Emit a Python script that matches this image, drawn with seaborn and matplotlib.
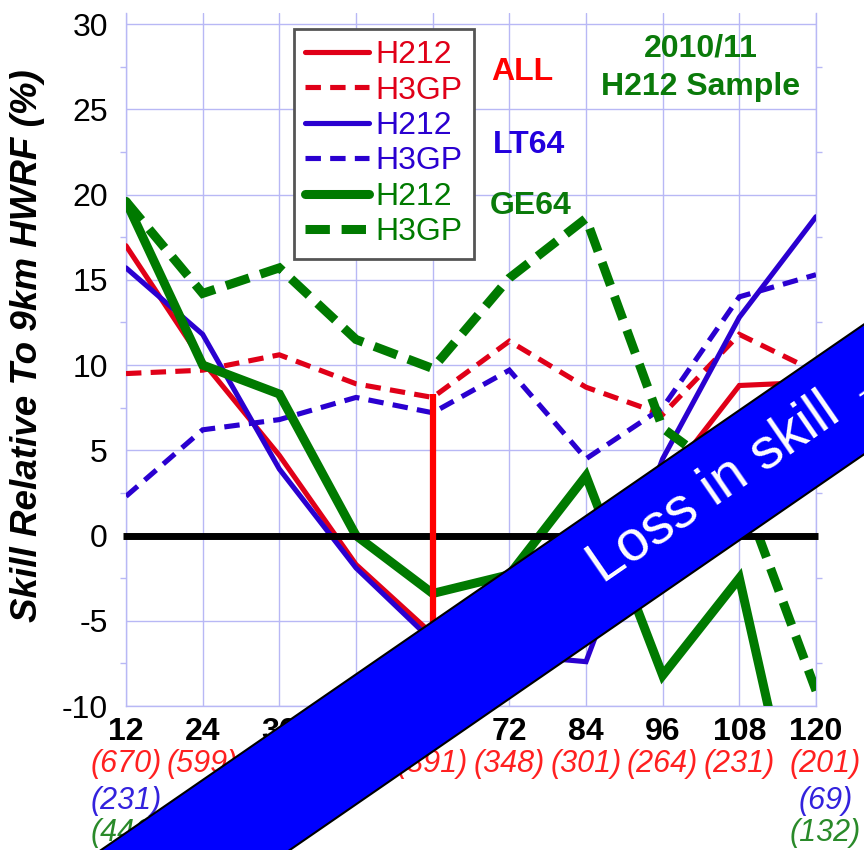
import matplotlib
matplotlib.use('Agg')
import matplotlib.pyplot as plt
import seaborn as sns
import numpy as np
from matplotlib.patches import Polygon

# ---------------- data ----------------
hours = [12, 24, 36, 48, 60, 72, 84, 96, 108, 120]
all_h212 = [17.0, 10.2, 4.7, -1.7, -5.8, -4.5, -3.0, 3.0, 8.8, 9.0]
all_h3gp = [9.5, 9.7, 10.6, 8.9, 8.1, 11.4, 8.7, 7.1, 11.8, 9.6]
lt64_h212 = [15.7, 11.8, 3.9, -1.9, -6.2, -7.0, -7.4, 4.5, 12.8, 18.7]
lt64_h3gp = [2.3, 6.2, 6.8, 8.1, 7.2, 9.7, 4.5, 7.5, 14.0, 15.3]
ge64_h212 = [19.6, 10.0, 8.3, 0.0, -3.4, -2.3, 3.5, -8.2, -2.5, -22.5]
ge64_h3gp = [19.6, 14.2, 15.7, 11.5, 9.8, 15.1, 18.6, 6.3, 3.0, -9.1]

count_all = [670, 599, 532, 459, 391, 348, 301, 264, 231, 201]
count_lt64 = [231, None, None, None, None, None, None, None, None, 69]
count_ge64 = [446, None, None, None, None, None, None, None, None, 132]

yticks = [-10, -5, 0, 5, 10, 15, 20, 25, 30]
legend_labels = ['H212', 'H3GP', 'H212', 'H3GP', 'H212', 'H3GP']
group_labels = ['ALL', 'LT64', 'GE64']
title_text = '2010/11\nH212 Sample'
ylabel_text = 'Skill Relative To 9km HWRF (%)'
banner_text = 'Loss in skill \u2192'

# ---------------- style ----------------
RED = '#e00018'
BLUE = '#2a00d0'
GREEN = '#007a00'
GRID = '#b8b8f5'
W, H = 864, 850

sns.set_theme(style='white')
plt.rcParams['font.family'] = ['Liberation Sans', 'DejaVu Sans']
plt.rcParams['axes.unicode_minus'] = False

fig = plt.figure(figsize=(W / 100, H / 100), dpi=100)
ax = fig.add_axes([126 / W, 1 - 706 / H, 690 / W, 693 / H])


def fx(px):
    return px / W


def fy(py):
    return 1 - py / H


thin_dash = (0, (3.0, 1.8))
thick_dash = (0, (2.7, 1.3))
series = [
    (all_h212, RED, 3.7, '-', 3),
    (all_h3gp, RED, 3.7, thin_dash, 3),
    (lt64_h212, BLUE, 3.7, '-', 3),
    (lt64_h3gp, BLUE, 3.7, thin_dash, 3),
    (ge64_h212, GREEN, 6.5, '-', 4),
    (ge64_h3gp, GREEN, 6.5, thick_dash, 4),
]

handles = []
for (vals, col, lw, ls, z), lab in zip(series, legend_labels):
    sns.lineplot(x=hours, y=vals, ax=ax, color=col, linewidth=lw,
                 linestyle=ls, zorder=z, solid_joinstyle='miter',
                 dash_joinstyle='miter', dash_capstyle='butt')
    line = ax.get_lines()[-1]
    line.set_label(lab)
    handles.append(line)

leg_old = ax.get_legend()
if leg_old is not None:
    leg_old.remove()

# zero line & vertical marker
ax.hlines(0, 11.5, 120.3, color='black', lw=5, zorder=6, clip_on=False)
ax.vlines(hours[4], all_h212[4], all_h3gp[4] + 0.2, color='#ff0000', lw=4.5, zorder=7)

# axes styling
ax.set_xlim(12, 120)
ax.set_ylim(-10, 30.65)
ax.set_xticks(hours)
ax.set_xticklabels([str(h) for h in hours], fontsize=23, fontweight='bold', color='black')
ax.set_yticks(yticks)
ax.set_yticklabels([str(t) for t in yticks], fontsize=23, color='black')
ax.set_yticks(np.arange(-7.5, 30, 5), minor=True)
ax.tick_params(axis='x', which='major', length=0, pad=8)
ax.tick_params(axis='y', which='major', length=0, pad=13)
ax.tick_params(axis='y', which='minor', left=True, right=True, direction='out',
               length=4, width=1, color=GRID)
ax.grid(True, which='major', color=GRID, lw=1.0)
ax.set_axisbelow(True)
ax.spines['top'].set_visible(False)
for s in ['left', 'right', 'bottom']:
    ax.spines[s].set_color(GRID)
    ax.spines[s].set_linewidth(1.0)
ax.set_xlabel('')
ax.set_ylabel('')

fig.text(fx(28), fy(346), ylabel_text, rotation=90, fontsize=26.5,
         fontweight='bold', fontstyle='italic', ha='center', va='center', color='black')

# legend
leg = ax.legend(handles, legend_labels, loc='upper left',
                bbox_to_anchor=(fx(294), fy(29)), bbox_transform=fig.transFigure,
                fontsize=23, labelcolor='linecolor', frameon=True, fancybox=False,
                edgecolor='#555555', framealpha=1, borderpad=0.35,
                labelspacing=0.17, handlelength=2.0, handletextpad=0.2,
                borderaxespad=0)
leg.get_frame().set_linewidth(2)
leg.set_zorder(10)

# group labels
fig.text(fx(491), fy(72), group_labels[0], color='#ff0000', fontsize=23,
         fontweight='bold', ha='left', va='center')
fig.text(fx(493), fy(145), group_labels[1], color='#2200dd', fontsize=23,
         fontweight='bold', ha='left', va='center')
fig.text(fx(490), fy(206), group_labels[2], color='#0a7a0a', fontsize=23,
         fontweight='bold', ha='left', va='center')
fig.text(fx(701), fy(68), title_text, color='#0a7a0a', fontsize=23,
         fontweight='bold', ha='center', va='center', linespacing=1.38)

# sample counts
trans = ax.get_xaxis_transform()
rows = [(count_all, '#ff2020', -0.0837), (count_lt64, '#3322dd', -0.137),
        (count_ge64, '#2a8a2a', -0.183)]
for counts, col, yf in rows:
    for i, (h, n) in enumerate(zip(hours, counts)):
        if n is None:
            continue
        xoff = 1.5 if i == len(hours) - 1 else 0
        ax.text(h + xoff, yf, f'({n})', transform=trans, ha='center', va='center',
                color=col, fontsize=22, fontstyle='italic', clip_on=False)

# banner
slope = 0.689
def up(x):
    return 622 - slope * (x - 432)
def lo(x):
    return 752 - slope * (x - 432)
verts = [(fx(70), fy(up(70))), (fx(900), fy(up(900))),
         (fx(900), fy(lo(900))), (fx(260), fy(lo(260)))]
fig.add_artist(Polygon(verts, closed=True, facecolor='#0000ff', edgecolor='black',
                       lw=1.5, transform=fig.transFigure, zorder=20, clip_on=False))
fig.text(fx(603), fy(584), banner_text, rotation=34.6, rotation_mode='anchor',
         ha='left', va='baseline', color='white', fontsize=41, zorder=21)

fig.savefig('out.png', dpi=100)
